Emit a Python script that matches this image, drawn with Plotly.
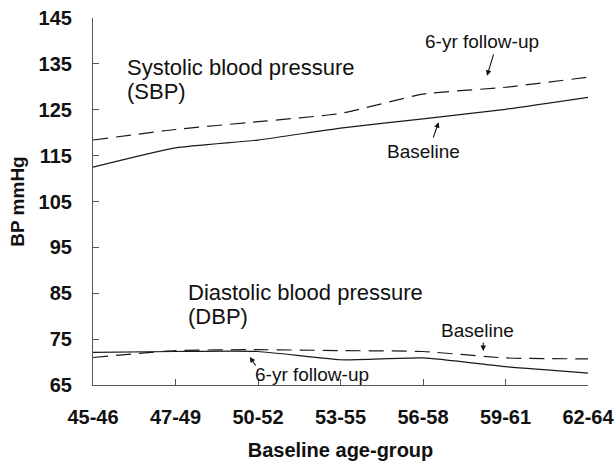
import plotly.graph_objects as go

age_groups = ["45-46", "47-49", "50-52", "53-55", "56-58", "59-61", "62-64"]
sbp_baseline = [112.5, 116.7, 118.4, 121.0, 123.0, 125.1, 127.7]
sbp_followup = [118.4, 120.7, 122.4, 124.2, 128.4, 129.9, 132.1]
dbp_baseline = [71.0, 72.5, 72.7, 72.5, 72.3, 70.9, 70.7]
dbp_followup = [72.1, 72.3, 72.3, 70.5, 70.9, 69.0, 67.6]
y_ticks = [65, 75, 85, 95, 105, 115, 125, 135, 145]

FONT = "Liberation Sans, Arial, sans-serif"
LINE = "#1a1a1a"
xi = list(range(len(age_groups)))

fig = go.Figure()
fig.add_trace(go.Scatter(x=xi, y=sbp_baseline, mode="lines",
                         line=dict(color=LINE, width=1.2, shape="spline", smoothing=0.5)))
fig.add_trace(go.Scatter(x=xi, y=sbp_followup, mode="lines",
                         line=dict(color=LINE, width=1.2, dash="15px,8px", shape="spline", smoothing=0.5)))
fig.add_trace(go.Scatter(x=xi, y=dbp_baseline, mode="lines",
                         line=dict(color=LINE, width=1.2, dash="15px,8px", shape="spline", smoothing=0.5)))
fig.add_trace(go.Scatter(x=xi, y=dbp_followup, mode="lines",
                         line=dict(color=LINE, width=1.2, shape="spline", smoothing=0.5)))

big = dict(family=FONT, size=22, color="#111")
small = dict(family=FONT, size=19, color="#111")

annotations = [
    dict(x=0.39, y=134.3, text="Systolic blood pressure", xanchor="left", font=big),
    dict(x=0.39, y=129.0, text="(SBP)", xanchor="left", font=big),
    dict(x=1.127, y=85.1, text="Diastolic blood pressure", xanchor="left", font=big),
    dict(x=1.127, y=79.9, text="(DBP)", xanchor="left", font=big),
    dict(x=4.715, y=139.8, text="6-yr follow-up", font=small),
    dict(x=4.01, y=115.8, text="Baseline", font=small),
    dict(x=4.655, y=76.8, text="Baseline", font=small),
    dict(x=2.655, y=67.2, text="6-yr follow-up", font=small),
]
for a in annotations:
    a.update(xref="x", yref="y", showarrow=False)

arrows = [
    dict(x=4.776, y=132.4, ax=7, ay=-23),
    dict(x=4.19, y=122.3, ax=-6, ay=17),
    dict(x=4.73, y=72.4, ax=0, ay=-10),
    dict(x=1.90, y=71.1, ax=7, ay=10),
]
for a in arrows:
    annotations.append(dict(xref="x", yref="y", text="", showarrow=True,
                            arrowhead=2, arrowsize=1.0, arrowwidth=1.1,
                            arrowcolor="#111", standoff=0, **a))

fig.update_layout(
    width=616, height=461,
    margin=dict(l=93, r=28, t=18, b=76),
    paper_bgcolor="white", plot_bgcolor="white",
    showlegend=False,
    font=dict(family=FONT, color="#111"),
    annotations=annotations,
    xaxis=dict(range=[0, 6], tickmode="array", tickvals=xi, ticktext=age_groups,
               automargin=False,
               showgrid=False, zeroline=False, showline=True, linecolor="#555", linewidth=1.2,
               ticks="inside", ticklen=6, tickcolor="#555", ticklabelstandoff=14,
               tickfont=dict(family=FONT, size=20, weight="bold", color="#111"),
               title=dict(text="Baseline age-group", standoff=21,
                          font=dict(family=FONT, size=20, weight="bold", color="#111"))),
    yaxis=dict(range=[65, 145], tickmode="array", tickvals=y_ticks,
               automargin=False,
               showgrid=False, zeroline=False, showline=True, linecolor="#555", linewidth=1.2,
               ticks="inside", ticklen=6, tickcolor="#555", ticklabelstandoff=16,
               tickfont=dict(family=FONT, size=20, weight="bold", color="#111"),
               title=dict(text="BP mmHg", standoff=8,
                          font=dict(family=FONT, size=19, weight="bold", color="#111"))),
)

fig.write_html("out.html", config={"displayModeBar": False},
               post_script="document.body.style.margin='0';")
